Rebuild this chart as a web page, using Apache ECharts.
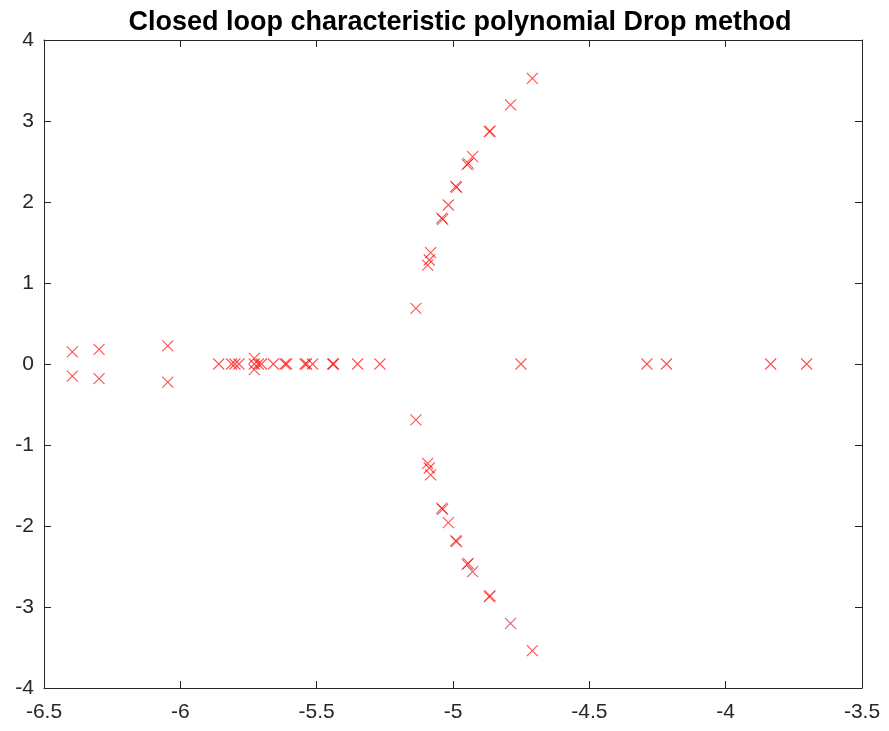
<!DOCTYPE html>
<html>
<head>
<meta charset="utf-8">
<script src="https://cdn.jsdelivr.net/npm/echarts@6/dist/echarts.min.js"></script>
<style>
  html, body { margin: 0; padding: 0; background: #fff; }
  #chart { width: 889px; height: 731px; }
</style>
</head>
<body>
<div id="chart"></div>
<script>
// Closed-loop poles: real parts and imaginary parts
const realAxisPoles = [
  -5.859, -5.812, -5.800, -5.785, -5.729, -5.714, -5.702, -5.659,
  -5.616, -5.610, -5.543, -5.537, -5.515, -5.441, -5.438, -5.350, -5.268,
  -4.751, -4.289, -4.217, -3.835, -3.703
];
const leftPairRe = [-6.396, -6.396, -6.298, -6.298, -6.046, -6.046, -5.729, -5.729];
const leftPairIm = [0.150, -0.150, 0.180, -0.180, 0.224, -0.224, 0.070, -0.070];

const upperRe = [-4.709, -4.789, -4.867, -4.864, -4.928, -4.944, -4.948, -4.987, -4.990,
                 -5.017, -5.038, -5.041, -5.082, -5.087, -5.093, -5.136];
const upperIm = [3.527, 3.198, 2.868, 2.874, 2.559, 2.478, 2.462, 2.181, 2.193,
                 1.963, 1.786, 1.800, 1.374, 1.284, 1.222, 0.688];
const lowerRe = [-4.709, -4.789, -4.867, -4.864, -4.928, -4.944, -4.948, -4.987, -4.990,
                 -5.017, -5.038, -5.041, -5.082, -5.087, -5.093, -5.136];
const lowerIm = [-3.539, -3.202, -2.872, -2.864, -2.564, -2.461, -2.475, -2.193, -2.180,
                 -1.959, -1.794, -1.780, -1.370, -1.284, -1.226, -0.691];

const xTicks = [-6.5, -6, -5.5, -5, -4.5, -4, -3.5];
const yTicks = [-4, -3, -2, -1, 0, 1, 2, 3, 4];

const points = [];
realAxisPoles.forEach(r => points.push([r, 0]));
leftPairRe.forEach((r, i) => points.push([r, leftPairIm[i]]));
upperRe.forEach((r, i) => points.push([r, upperIm[i]]));
lowerRe.forEach((r, i) => points.push([r, lowerIm[i]]));

const axisColor = '#262626';
const labelFont = { fontFamily: 'Liberation Sans, Arial, sans-serif', fontSize: 21, color: axisColor };

const chart = echarts.init(document.getElementById('chart'));
chart.setOption({
  animation: false,
  backgroundColor: '#fff',
  title: {
    text: 'Closed loop characteristic polynomial Drop method',
    left: 455, top: 4, textAlign: 'center',
    textStyle: { fontFamily: 'Liberation Sans, Arial, sans-serif', fontWeight: 'bold', fontSize: 27, color: '#000' }
  },
  grid: { left: 44, right: 27, top: 40, bottom: 43, show: false },
  xAxis: [
    {
      type: 'value', min: -6.5, max: -3.5, interval: 0.5, position: 'bottom',
      axisLine: { show: true, onZero: false, lineStyle: { color: axisColor, width: 1 } },
      axisTick: { show: true, inside: true, length: 7, lineStyle: { color: axisColor } },
      axisLabel: { ...labelFont, margin: 14, formatter: v => (xTicks.includes(v) ? String(v) : '') },
      splitLine: { show: false }
    },
    {
      type: 'value', min: -6.5, max: -3.5, interval: 0.5, position: 'top',
      axisLine: { show: true, onZero: false, lineStyle: { color: axisColor, width: 1 } },
      axisTick: { show: true, inside: true, length: 7, lineStyle: { color: axisColor } },
      axisLabel: { show: false }, splitLine: { show: false }
    }
  ],
  yAxis: [
    {
      type: 'value', min: -4, max: 4, interval: 1, position: 'left',
      axisLine: { show: true, onZero: false, lineStyle: { color: axisColor, width: 1 } },
      axisTick: { show: true, inside: true, length: 7, lineStyle: { color: axisColor } },
      axisLabel: { ...labelFont, margin: 10, formatter: v => (yTicks.includes(v) ? String(v) : '') },
      splitLine: { show: false }
    },
    {
      type: 'value', min: -4, max: 4, interval: 1, position: 'right',
      axisLine: { show: true, onZero: false, lineStyle: { color: axisColor, width: 1 } },
      axisTick: { show: true, inside: true, length: 7, lineStyle: { color: axisColor } },
      axisLabel: { show: false }, splitLine: { show: false }
    }
  ],
  series: [{
    type: 'scatter',
    xAxisIndex: 0, yAxisIndex: 0,
    data: points,
    symbol: 'path://M0,0L10,10M10,0L0,10',
    symbolSize: 11,
    itemStyle: { color: 'none', borderColor: 'rgba(255,0,0,0.85)', borderWidth: 1.1 }
  }]
});
</script>
</body>
</html>
